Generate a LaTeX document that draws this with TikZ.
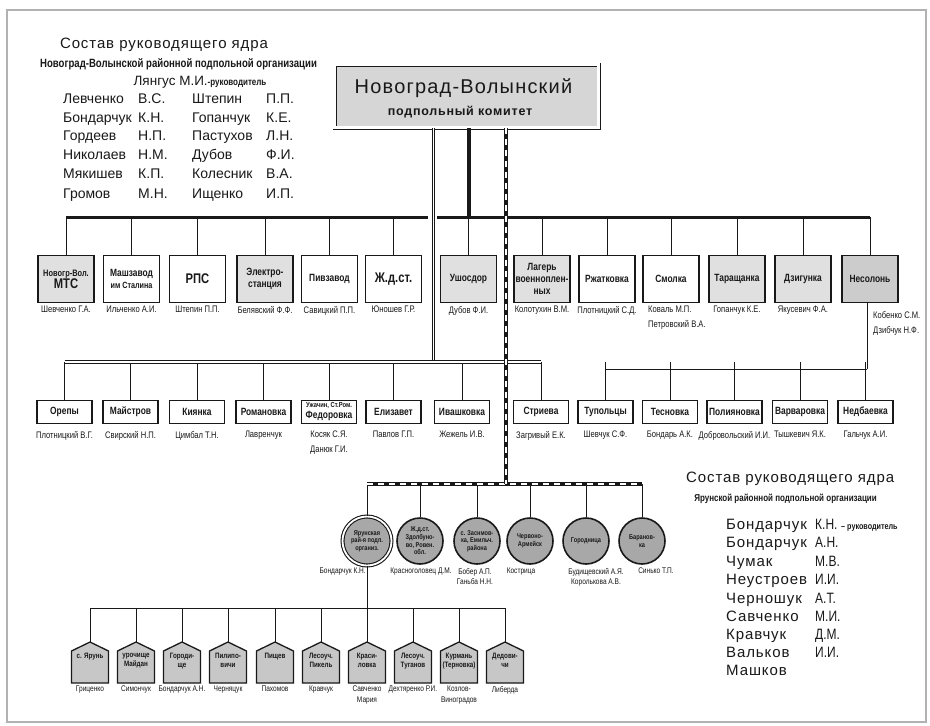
\documentclass[tikz,border=0pt]{standalone}
\usepackage{fontspec}
\setmainfont{Liberation Sans}
\newfontfamily\cnd[FakeStretch=0.8]{Liberation Sans}
\newfontfamily\spc[LetterSpace=6]{Liberation Sans}
\definecolor{ink}{gray}{0.1}
\definecolor{lgray}{gray}{0.88}
\definecolor{mgray}{gray}{0.80}
\definecolor{cgray}{gray}{0.66}
\definecolor{tgray}{gray}{0.84}
\definecolor{pgray}{gray}{0.78}
\tikzset{
  conn/.style={draw=ink, line width=1pt},
  busline/.style={draw=ink, line width=3pt},
  dbl/.style={draw=ink, line width=0.8pt, double=white, double distance=1.5pt},
  rail/.style={draw=ink, line width=4pt, postaction={draw=white, line width=1.1pt, dash pattern=on 6pt off 5pt}},
  boxa/.style={draw=ink, line width=1.1pt, minimum width=56pt, minimum height=47pt, inner sep=1pt, align=center, text=ink, font=\cnd\bfseries\fontsize{10.5}{12}\selectfont},
  boxb/.style={draw=ink, line width=1.1pt, fill=white, minimum width=55pt, minimum height=23pt, inner sep=1pt, align=center, text=ink, font=\cnd\bfseries\fontsize{10.5}{11}\selectfont},
  circ/.style={circle, draw=ink, line width=1.6pt, fill=cgray, minimum size=46pt, inner sep=0pt, align=center, text=ink, font=\cnd\bfseries\fontsize{7}{7.6}\selectfont},
  plab/.style={inner sep=0pt, align=center, text=ink, font=\cnd\bfseries\fontsize{7.8}{8.6}\selectfont},
  nma/.style={inner sep=0pt, align=center, text=ink, font=\cnd\fontsize{9.5}{15}\selectfont},
  nmc/.style={inner sep=0pt, align=center, text=ink, font=\cnd\fontsize{8.2}{10.5}\selectfont},
  bigname/.style={inner sep=0pt, anchor=base west, text=ink, font=\fontsize{14}{14}\selectfont},
  rname/.style={inner sep=0pt, anchor=base west, text=ink, font=\spc\fontsize{15}{15}\selectfont},
  rinit/.style={inner sep=0pt, anchor=base west, text=ink, font=\cnd\fontsize{15}{15}\selectfont},
  hdr/.style={inner sep=0pt, anchor=base, text=ink},
}
\begin{document}
\begin{tikzpicture}[x=1pt,y=-1pt]
\useasboundingbox (0,0) rectangle (930,726);
\fill[white] (0,0) rectangle (930,726);
\draw[gray!60, line width=1.2pt] (7,10) rectangle (926,722);

% ---------- top-left block
\node[hdr, font=\spc\fontsize{15}{15}\selectfont] (h1) at (164,48) {Состав руководящего ядра};
\node[hdr, font=\cnd\bfseries\fontsize{12}{12}\selectfont] (h2) at (178.5,67) {Новоград-Волынской районной подпольной организации};
\node[hdr] (h3) at (200,85) {{\fontsize{13.5}{14}\selectfont Лянгус М.И.}{\cnd\bfseries\fontsize{10}{10}\selectfont -руководитель}};
\foreach \k/\y/\na/\ia/\nb/\ib in {
  1/103/Левченко/В.С./Штепин/П.П.,
  2/122/Бондарчук/К.Н./Гопанчук/К.Е.,
  3/140/Гордеев/Н.П./Пастухов/Л.Н.,
  4/159/Николаев/Н.М./Дубов/Ф.И.,
  5/178/Мякишев/К.П./Колесник/В.А.,
  6/198/Громов/М.Н./Ищенко/И.П.}{
  \node[bigname] (la\k) at (63,\y) {\na};
  \node[bigname] (lb\k) at (138,\y) {\ia};
  \node[bigname] (lc\k) at (192,\y) {\nb};
  \node[bigname] (ld\k) at (266,\y) {\ib};
}

% ---------- title box
\node[draw=ink, line width=0.9pt, double=white, double distance=2.2pt, fill=tgray,
      minimum width=264pt, minimum height=63pt] (title) at (466.5,96) {};
\node[hdr, font=\spc\fontsize{20}{20}\selectfont] (t1) at (463.5,93) {Новоград-Волынский};
\node[hdr, font=\spc\bfseries\fontsize{12.5}{12.5}\selectfont] (t2) at (460,115) {подпольный комитет};

% ---------- row 1
\foreach \i/\x/\fc/\lbl in {
  1/66/lgray/{{\fontsize{9.3}{12}\selectfont Новогр-Вол.}\\{\fontsize{14}{15}\selectfont МТС}},
  2/131.5/white/{Машзавод\\{\fontsize{9}{11}\selectfont им Сталина}},
  3/197.5/white/{\fontsize{14}{15}\selectfont РПС},
  4/265/lgray/{Электро-\\станция},
  5/329.5/white/{Пивзавод},
  6/393.5/white/{\fontsize{14}{15}\selectfont Ж.д.ст.},
  7/468.5/lgray/{Ушосдор},
  8/542/lgray/{Лагерь\\военноплен-\\ных},
  9/607/white/{Ржатковка},
  10/671/white/{Смолка},
  11/737/lgray/{Таращанка},
  12/803/lgray/{Дзигунка},
  13/870/mgray/{Несолонь}}{
  \node[boxa, fill=\fc] (n1-\i) at (\x,279) {\lbl};
}
\foreach \i/\nm in {1/{Шевченко Г.А.},2/{Ильченко А.И.},3/{Штепин П.П.},4/{Белявский Ф.Ф.},
  5/{Савицкий П.П.},6/{Юношев Г.Р.},7/{Дубов Ф.И.},8/{Колотухин В.М.},9/{Плотницкий С.Д.},
  11/{Гопанчук К.Е.},12/{Якусевич Ф.А.}}{
  \node[nma, anchor=north] (m1-\i) at (n1-\i.south |- 0,306) {\nm};
}
\node[nma, anchor=north west, align=left] (m1-10) at (648,306) {Коваль М.П.\\Петровский В.А.};
\node[nma, anchor=north west, align=left] (m1-13) at (873,311) {Кобенко С.М.\\Дзибчук Н.Ф.};

\coordinate (ya) at (0,217);
\coordinate (bLend) at (428,217);
\coordinate (bRbeg) at (437,217);
\draw[busline] (n1-1.north |- ya) -- (bLend);
\draw[busline] (bRbeg) -- (n1-13.north |- ya);
\foreach \i in {1,...,13}{ \draw[conn] (n1-\i.north) -- (n1-\i.north |- ya); }

% ---------- row 2
\foreach \i/\x/\lbl in {
  1/64.5/{Орепы}, 2/130.5/{Майстров}, 3/197/{Киянка}, 4/263.5/{Романовка},
  5/329/{\fontsize{7.3}{8.5}\selectfont Ужачин, Ст.Ром.\\Федоровка},
  6/393.5/{Елизавет}, 7/462/{Ивашковка}, 8/541/{Стриева}, 9/605.5/{Тупольцы},
  10/670/{Тесновка}, 11/734.5/{Полияновка}, 12/800/{Варваровка}, 13/865.5/{Недбаевка}}{
  \node[boxb] (n2-\i) at (\x,412) {\lbl};
}
\foreach \i/\nm in {1/{Плотницкий В.Г.},2/{Свирский Н.П.},3/{Цимбал Т.Н.},4/{Лавренчук},
  5/{Косяк С.Я.\\Данюк Г.И.},6/{Павлов Г.П.},7/{Жежель И.В.},8/{Загривый Е.К.},
  9/{Шевчук С.Ф.},10/{Бондарь А.К.},11/{Добровольский И.И.},12/{Тышкевич Я.К.},13/{Гальчук А.И.}}{
  \node[nma, anchor=north] (m2-\i) at (n2-\i.south |- 0,431) {\nm};
}
\coordinate (yb) at (0,362);
\coordinate (ybr) at (0,369);
\coordinate (dv) at (433.5,362);
\coordinate (nv) at (867,369);
\foreach \i in {1,...,13}{ \draw[conn] (n2-\i.north) -- (n2-\i.north |- yb); }
\draw[conn] (n1-13.south -| nv) -- (nv);
\draw[conn] (n2-9.north |- ybr) -- (nv);
\draw[dbl] (title.south -| dv) -- (dv);
\draw[dbl] (n2-1.north |- yb) -- (n2-8.north |- yb);
\draw[conn] (n2-13.north) -- (n2-13.north |- ybr);

% ---------- circles
\foreach \i/\x/\lbl in {
  2/420/{Ж.д.ст.\\Здолбуно-\\во, Ровен.\\обл.},
  3/477/{с. Заснмов-\\ка, Емильч.\\района},
  4/530/{Червоно-\\Армейск},
  5/586/{Городница},
  6/642/{Баранов-\\ка}}{
  \node[circ] (c\i) at (\x,541) {\lbl};
}
\node[circ, minimum size=49pt, line width=1.1pt, double=white, double distance=1.8pt] (c1) at (367,541) {Ярунская\\рай-я подп.\\организ.};
\node[nmc, anchor=north east] (cn1) at (366,568) {Бондарчук К.Н.};
\node[nmc, anchor=north] (cn2) at (421,568) {Красноголовец Д.М.};
\node[nmc, anchor=north] (cn3) at (475,568) {Бобер А.П.\\Ганьба Н.Н.};
\node[nmc, anchor=north] (cn4) at (521,568) {Кострица};
\node[nmc, anchor=north] (cn5) at (596,568) {Будищевский А.Я.\\Королькова А.В.};
\node[nmc, anchor=north] (cn6) at (656,568) {Синько Т.П.};
\coordinate (yc) at (0,484);
\foreach \i in {1,...,6}{ \draw[conn] (c\i.north) -- (c\i.north |- yc); }

% ---------- pentagons
\coordinate (yd) at (0,608);
\foreach \i/\x/\lbl/\nm in {
  1/90/{с. Ярунь}/{Гриценко},
  2/136/{урочище\\Майдан}/{Симончук},
  3/182/{Городи-\\ще}/{Бондарчук А.Н.},
  4/228/{Пилипо-\\вичи}/{Черняцук},
  5/275/{Пищев}/{Пахомов},
  6/321/{Лесоуч.\\Пикель}/{Кравчук},
  7/367/{Краси-\\ловка}/{Савченко\\Мария},
  8/413/{Лесоуч.\\Туганов}/{Дехтяренко Р.И.},
  9/459/{Курмань\\(Терновка)}/{Козлов-\\Виноградов},
  10/505/{Дедови-\\чи}/{Либерда}}{
  \coordinate (pa\i) at (\x,642);
  \filldraw[fill=pgray, draw=ink, line width=1.3pt, line join=miter]
     (\x-18.5,683) -- (\x-18.5,651) -- (pa\i) -- (\x+18.5,651) -- (\x+18.5,683) -- cycle;
  \node[plab, anchor=north] (pl\i) at (\x,653) {\lbl};
  \node[nmc, anchor=north] (pn\i) at (\x,686) {\nm};
  \draw[conn] (pa\i) -- (pa\i |- yd);
}
\draw[conn] (pa1 |- yd) -- (pa10 |- yd);
\draw[conn] (c1.south) -- (c1.south |- yd);

% ---------- thick trunk lines
\draw[busline, line width=4pt] (title.south -| n1-7.north) -- (n1-7.north |- ya);
\coordinate (rl) at (506,484);
\draw[rail, line width=3.5pt] (c1.north |- yc) -- (c6.north |- yc);
\draw[rail] (title.south -| rl) -- (rl);

% ---------- right block
\node[hdr, font=\spc\fontsize{15}{15}\selectfont, anchor=base west] (rh1) at (686,482) {Состав руководящего ядра};
\node[hdr, font=\cnd\bfseries\fontsize{10}{10}\selectfont] (rh2) at (785.5,501) {Ярунской районной подпольной организации};
\foreach \k/\y/\na/\ia in {
  1/529/Бондарчук/К.Н.,
  2/547/Бондарчук/А.Н.,
  3/566/Чумак/М.В.,
  4/584/Неустроев/И.И.,
  5/603/Черношук/А.Т.,
  6/621/Савченко/М.И.,
  7/639/Кравчук/Д.М.,
  8/657/Вальков/И.И.}{
  \node[rname] (ra\k) at (726,\y) {\na};
  \node[rinit] (rb\k) at (815,\y) {\ia};
}
\node[rname] (ra9) at (726,675) {Машков};
\node[hdr, anchor=base west, font=\cnd\bfseries\fontsize{9}{9}\selectfont] (rr) at (841,529) {– руководитель};
\end{tikzpicture}
\end{document}
